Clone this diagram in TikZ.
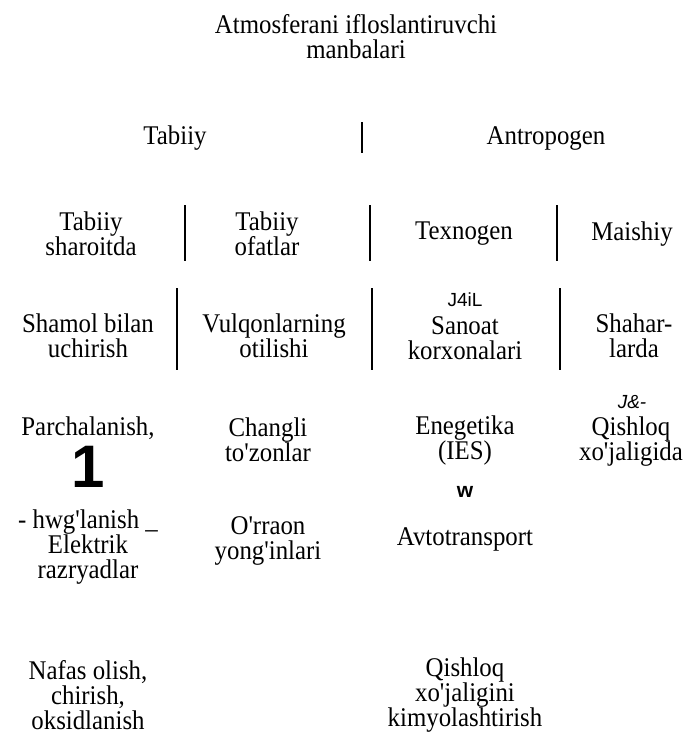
\documentclass[tikz,border=0pt]{standalone}
\usepackage{fontspec}
\newfontfamily\rmx{Liberation Serif}[FakeStretch=0.92]
\newfontfamily\sfx{Liberation Sans}
\tikzset{
  txt/.style={font=\rmx\fontsize{27}{25}\selectfont, align=center, inner sep=0pt},
  smallsf/.style={font=\sfx\fontsize{19}{19}\selectfont, inner sep=0pt},
  sep/.style={line width=2.6pt},
}
\begin{document}
\begin{tikzpicture}[x=1pt,y=-1pt]
\useasboundingbox[fill=white] (0,0) rectangle (693,748);
% title
\node[txt] (title) at (356,37) {Atmosferani ifloslantiruvchi\\manbalari};
% level 1
\node[txt] (tab) at (175,138) {Tabiiy};
\node[txt] (ant) at (546,138) {Antropogen};
\coordinate (s0a) at (362,122); \coordinate (s0b) at (362,153);
\draw[sep] (s0a) -- (s0b);
% level 2
\node[txt] (ts) at (91,234) {Tabiiy\\sharoitda};
\node[txt] (to) at (267,234) {Tabiiy\\ofatlar};
\node[txt] (tx) at (464,234) {Texnogen};
\node[txt] (ma) at (632,234) {Maishiy};
\coordinate (s1a) at (185,205); \coordinate (s1b) at (185,261);
\coordinate (s2a) at (370,205); \coordinate (s2b) at (370,261);
\coordinate (s3a) at (557,205); \coordinate (s3b) at (557,261);
\draw[sep] (s1a) -- (s1b);
\draw[sep] (s2a) -- (s2b);
\draw[sep] (s3a) -- (s3b);
% level 3
\node[txt] (sh) at (88,336) {Shamol bilan\\uchirish};
\node[txt] (vu) at (274,336) {Vulqonlarning\\otilishi};
\node[smallsf] (j4) at (465,300) {J4iL};
\node[txt] (sa) at (465,338) {Sanoat\\korxonalari};
\node[txt] (shl) at (634,336) {Shahar-\\larda};
\coordinate (s4a) at (177,288); \coordinate (s4b) at (177,370);
\coordinate (s5a) at (372,288); \coordinate (s5b) at (372,370);
\coordinate (s6a) at (560,288); \coordinate (s6b) at (560,370);
\draw[sep] (s4a) -- (s4b);
\draw[sep] (s5a) -- (s5b);
\draw[sep] (s6a) -- (s6b);
% level 4
\node[txt] (pa) at (88,428) {Parchalanish,};
\node[font=\sfx\bfseries\fontsize{60}{60}\selectfont, inner sep=0pt] (one) at (88,467) {1};
\node[txt] (hw) at (88,522) {- hwg'lanish \_};
\node[txt] (el) at (88,560) {Elektrik\\razryadlar};
\node[txt] (ch) at (268,440) {Changli\\to'zonlar};
\node[txt] (orr) at (268,541) {O'rraon\\yong'inlari};
\node[txt] (en) at (465,440) {Enegetika\\(IES)};
\node[font=\sfx\bfseries\fontsize{21}{21}\selectfont, inner sep=0pt] (w) at (465,492) {w};
\node[txt] (av) at (465,539) {Avtotransport};
\node[font=\sfx\itshape\fontsize{19}{19}\selectfont, inner sep=0pt] (jm) at (632,402) {J\&-};
\node[txt] (qi) at (631,442) {Qishloq\\xo'jaligida};
% level 5
\node[txt] (na) at (88,695) {Nafas olish,\\chirish,\\oksidlanish};
\node[txt] (qk) at (465,695) {Qishloq\\xo'jaligini\\kimyolashtirish};
\end{tikzpicture}
\end{document}
